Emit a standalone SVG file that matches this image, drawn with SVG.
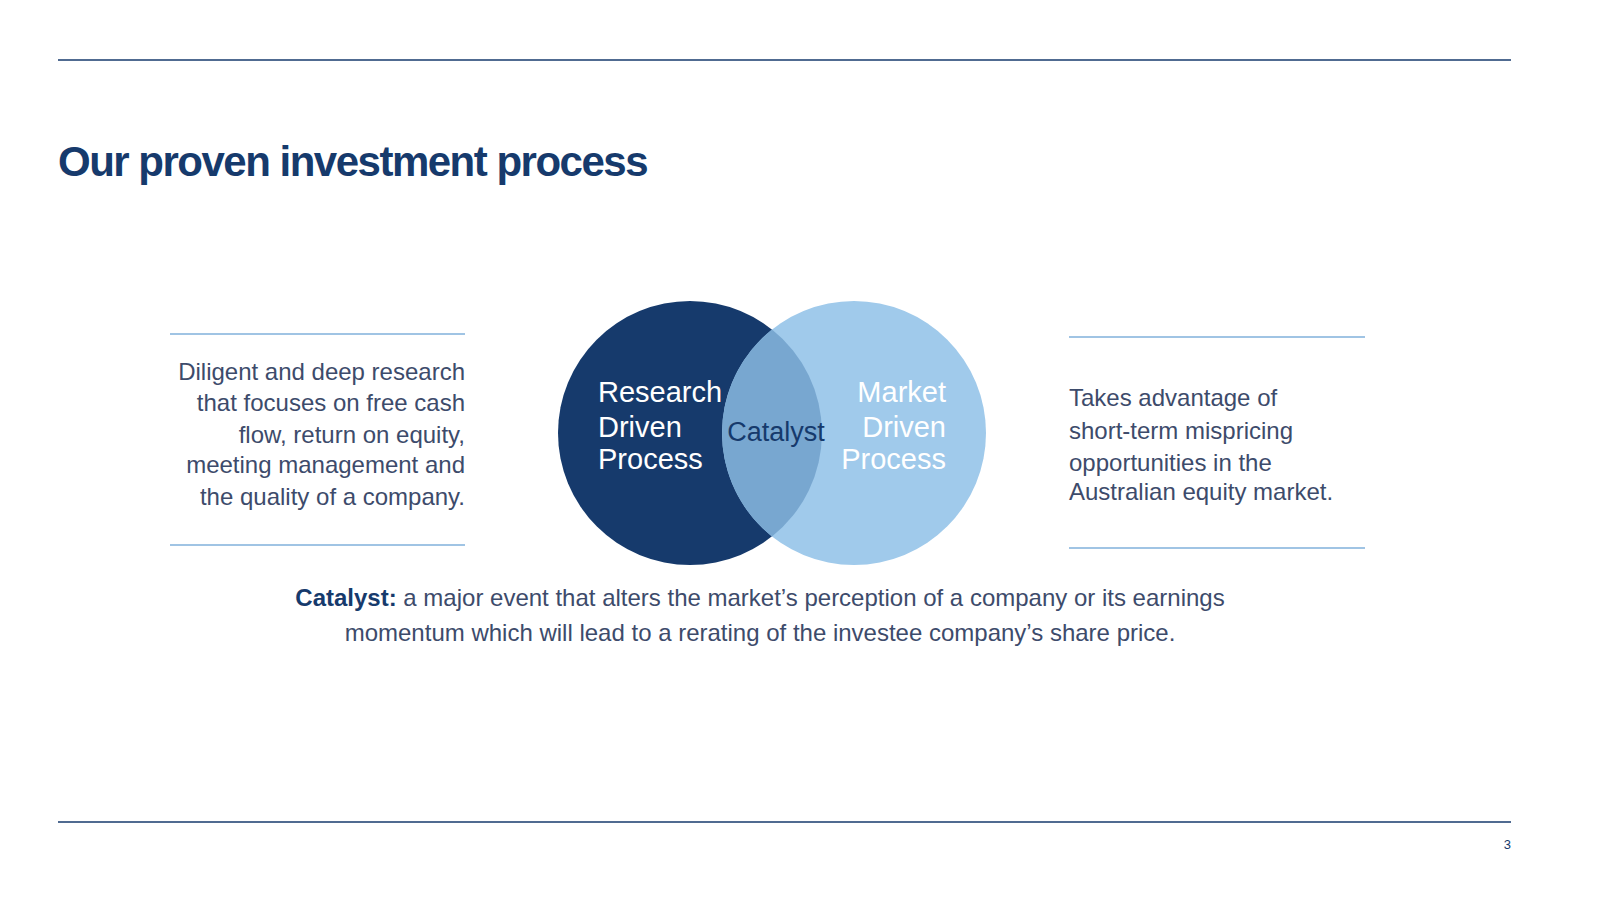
<svg xmlns="http://www.w3.org/2000/svg" width="1600" height="900" viewBox="0 0 1600 900">
<style>
.t{font-family:"Liberation Sans",Arial,sans-serif;font-size:24px;fill:#3d4b6b}
.w{font-family:"Liberation Sans",Arial,sans-serif;font-size:29px;fill:#fff}
.rule{stroke:#a0c4e4;stroke-width:2}
</style>
<rect width="1600" height="900" fill="#fff"/>
<line x1="58" y1="60" x2="1511" y2="60" stroke="#163a6c" stroke-width="1.5"/>
<line x1="58" y1="822" x2="1511" y2="822" stroke="#163a6c" stroke-width="1.5"/>
<text x="58" y="176" font-family="Liberation Sans,Arial,sans-serif" font-size="42" font-weight="bold" fill="#163a6c" letter-spacing="-1.5">Our proven investment process</text>
<g id="left-text">
<line class="rule" x1="170" y1="334" x2="465" y2="334"/>
<line class="rule" x1="170" y1="545" x2="465" y2="545"/>
<text class="t" text-anchor="end"><tspan x="465" y="380">Diligent and deep research</tspan><tspan x="465" y="411">that focuses on free cash</tspan><tspan x="465" y="443">flow, return on equity,</tspan><tspan x="465" y="473">meeting management and</tspan><tspan x="465" y="505">the quality of a company.</tspan></text>
</g>
<g id="research">
<circle cx="690" cy="433" r="132" fill="#163a6c"/>
</g>
<g id="market">
<circle cx="854" cy="433" r="132" fill="#a0caeb"/>
</g>
<g id="catalyst">
<path d="M772,329.6 A132,132 0 0,1 772,536.4 A132,132 0 0,1 772,329.6 Z" fill="#78a7d0"/>
</g>
<g id="labels">
<text class="w"><tspan x="598" y="402">Research</tspan><tspan x="598" y="437">Driven</tspan><tspan x="598" y="469">Process</tspan></text>
<text class="w" text-anchor="end"><tspan x="946" y="402">Market</tspan><tspan x="946" y="437">Driven</tspan><tspan x="946" y="469">Process</tspan></text>
<text x="776" y="441" text-anchor="middle" font-family="Liberation Sans,Arial,sans-serif" font-size="27" fill="#163a6c">Catalyst</text>
</g>
<g id="right-text">
<line class="rule" x1="1069" y1="337" x2="1365" y2="337"/>
<line class="rule" x1="1069" y1="548" x2="1365" y2="548"/>
<text class="t"><tspan x="1069" y="406">Takes advantage of</tspan><tspan x="1069" y="439">short-term mispricing</tspan><tspan x="1069" y="471">opportunities in the</tspan><tspan x="1069" y="500">Australian equity market.</tspan></text>
</g>
<text class="t" text-anchor="middle"><tspan x="760" y="606"><tspan font-weight="bold" fill="#163a6c">Catalyst:</tspan> a major event that alters the market’s perception of a company or its earnings</tspan><tspan x="760" y="641">momentum which will lead to a rerating of the investee company’s share price.</tspan></text>
<text x="1511" y="849" text-anchor="end" font-family="Liberation Sans,Arial,sans-serif" font-size="13" fill="#163a6c">3</text>
</svg>
